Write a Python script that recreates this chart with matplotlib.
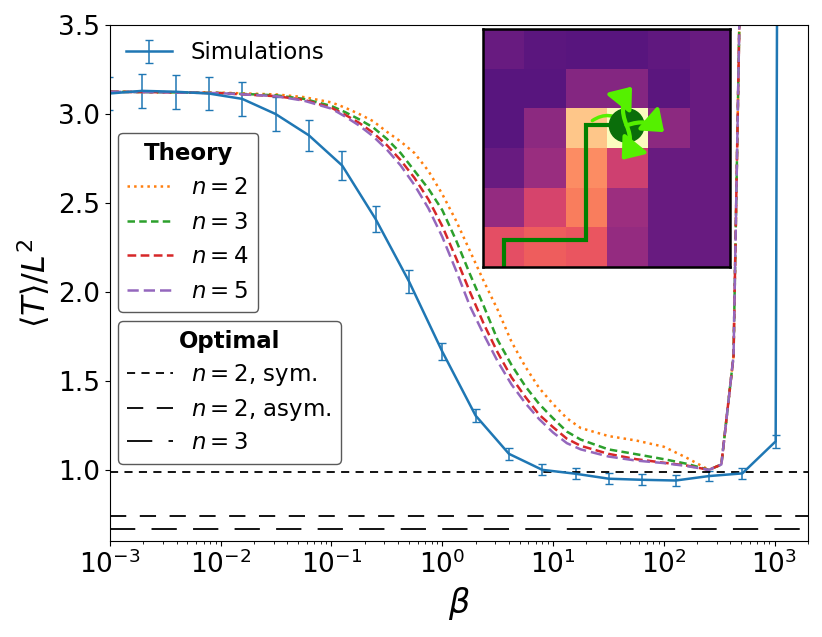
import numpy as np
import matplotlib
matplotlib.use('Agg')
import matplotlib.pyplot as plt
from matplotlib.lines import Line2D
from matplotlib.patches import Circle, FancyArrowPatch

# simulations, beta = 2**k
sim_log2_beta = [-10, -9, -8, -7, -6, -5, -4, -3, -2, -1, 0, 1, 2, 3, 4, 5, 6, 7, 8, 9, 10, 11]
sim_T = [3.115, 3.13, 3.125, 3.115, 3.085, 3.0, 2.88, 2.71, 2.41, 2.06, 1.665, 1.305,
         1.09, 1.0, 0.978, 0.95, 0.944, 0.94, 0.965, 0.98, 1.16, 60.0]
sim_err = [0.095, 0.095, 0.095, 0.095, 0.094, 0.094, 0.089, 0.08, 0.074, 0.065, 0.05, 0.038,
           0.035, 0.03, 0.03, 0.03, 0.03, 0.03, 0.03, 0.03, 0.037, 0.5]

# theory curves, on a log10(beta) grid
theory_logbeta = [-3.0, -2.5, -2.0, -1.5, -1.25, -1.0, -0.875, -0.75, -0.625, -0.5, -0.375,
                  -0.25, -0.125, 0.0, 0.125, 0.25, 0.375, 0.5, 0.625, 0.75, 0.875, 1.0,
                  1.125, 1.25, 1.5, 1.75, 2.0, 2.2, 2.408, 2.52, 2.63, 2.71]
theory_n2 = [3.125, 3.123, 3.12, 3.11, 3.095, 3.065, 3.035, 3.0, 2.96, 2.90, 2.845,
             2.78, 2.68, 2.55, 2.40, 2.23, 2.06, 1.90, 1.72, 1.58, 1.46, 1.37,
             1.29, 1.235, 1.19, 1.165, 1.13, 1.07, 1.0, 1.03, 1.64, 4.5]
theory_n3 = [3.125, 3.122, 3.118, 3.105, 3.085, 3.045, 3.01, 2.97, 2.925, 2.86, 2.78,
             2.68, 2.58, 2.46, 2.29, 2.10, 1.92, 1.73, 1.59, 1.47, 1.37, 1.29,
             1.215, 1.17, 1.115, 1.088, 1.06, 1.035, 1.0, 1.03, 1.64, 4.5]
theory_n4 = [3.125, 3.122, 3.117, 3.10, 3.08, 3.035, 2.995, 2.95, 2.895, 2.825, 2.74,
             2.64, 2.52, 2.37, 2.19, 2.0, 1.82, 1.66, 1.52, 1.41, 1.31, 1.24,
             1.175, 1.135, 1.09, 1.06, 1.04, 1.025, 1.0, 1.03, 1.64, 4.5]
theory_n5 = [3.125, 3.122, 3.117, 3.10, 3.075, 3.03, 2.985, 2.935, 2.875, 2.80, 2.71,
             2.60, 2.47, 2.31, 2.12, 1.92, 1.76, 1.61, 1.48, 1.375, 1.285, 1.21,
             1.15, 1.115, 1.075, 1.052, 1.038, 1.022, 1.0, 1.03, 1.64, 4.5]
theory_labels = ['$n=2$', '$n=3$', '$n=4$', '$n=5$']

# optimal values
opt_sym = 0.99
opt_asym = 0.742
opt_n3 = 0.67
opt_labels = ['$n=2$, sym.', '$n=2$, asym.', '$n=3$']

# inset grid (magma scale values)
inset_cells = [
    [0.31, 0.28, 0.27, 0.27, 0.29, 0.31],
    [0.27, 0.27, 0.38, 0.38, 0.28, 0.31],
    [0.27, 0.40, 0.88, 1.00, 0.40, 0.31],
    [0.31, 0.43, 0.76, 0.56, 0.31, 0.31],
    [0.42, 0.58, 0.73, 0.44, 0.31, 0.31],
    [0.62, 0.66, 0.64, 0.42, 0.31, 0.31],
]
path_x = [0.0, 0.0, 2.0, 2.0, 2.99]
path_y = [5.5, 4.81, 4.81, 1.91, 1.91]

fig = plt.figure(figsize=(8.22, 6.37), dpi=100)
ax = fig.add_axes([0.1338, 0.1507, 0.849, 0.810])

sim_beta = 2.0 ** np.array(sim_log2_beta)
sim_h = ax.errorbar(sim_beta, sim_T, yerr=sim_err, color='tab:blue', lw=1.8,
                    elinewidth=1.1, capsize=3, label='Simulations')

tb = 10.0 ** np.array(theory_logbeta)
styles = [(0, (1, 1.65)), (0, (3, 1.7)), (0, (3.5, 1.75)), (0, (4.5, 2))]
colors = ['tab:orange', 'tab:green', 'tab:red', 'tab:purple']
theory_handles = []
for vals, ls, c, lab in zip([theory_n2, theory_n3, theory_n4, theory_n5], styles, colors, theory_labels):
    h, = ax.plot(tb, vals, ls=ls, color=c, lw=1.8, label=lab)
    theory_handles.append(h)

opt_styles = [(0, (4.5, 3.5)), (0, (9, 7.5)), (0, (14, 9))]
opt_lws = [1.3, 1.3, 1.3]
opt_handles = []
for v, ls, lw, lab in zip([opt_sym, opt_asym, opt_n3], opt_styles, opt_lws, opt_labels):
    ax.axhline(v, color='k', ls=ls, lw=lw)
    opt_handles.append(Line2D([], [], color='k', ls=ls, lw=lw, label=lab))

ax.set_xscale('log')
ax.set_xlim(1e-3, 2e3)
ax.set_ylim(0.6, 3.5)
ax.set_yticks([1.0, 1.5, 2.0, 2.5, 3.0, 3.5])
ax.tick_params(labelsize=19)
ax.set_xlabel(r'$\beta$', fontsize=24)
ax.set_ylabel(r'$\langle T\rangle/L^2$', fontsize=23)

leg1 = ax.legend(handles=[sim_h], loc='upper left', frameon=False, fontsize=16.5,
                 borderaxespad=0.3)
ax.add_artist(leg1)
leg2 = ax.legend(handles=theory_handles, loc='upper left', bbox_to_anchor=(0.005, 0.80),
                 title='Theory', fontsize=16.5,
                 title_fontproperties={'weight': 'bold', 'size': 16.5},
                 edgecolor='0.35', framealpha=1, borderaxespad=0.2)
ax.add_artist(leg2)
leg3 = ax.legend(handles=opt_handles, loc='upper left', bbox_to_anchor=(0.005, 0.435),
                 title='Optimal', fontsize=16.5, labelspacing=0.38,
                 title_fontproperties={'weight': 'bold', 'size': 16.5},
                 edgecolor='0.35', framealpha=1, borderaxespad=0.2)

# inset
ins = fig.add_axes([0.5876, 0.5808, 0.3005, 0.3736])
ins.imshow(np.array(inset_cells), cmap='magma', vmin=0, vmax=1, aspect='auto')
ins.plot(path_x, path_y, color='green', lw=3, solid_joinstyle='miter')
ins.set_xlim(-0.5, 5.5)
ins.set_ylim(5.5, -0.5)
ins.set_xticks([])
ins.set_yticks([])
for s in ins.spines.values():
    s.set_linewidth(1.8)

cx, cy = 2.99, 1.93
arm_color = '#55f000'
ins.add_patch(FancyArrowPatch((cx, cy), (2.1, 1.85), connectionstyle='arc3,rad=0.45',
                              arrowstyle='-', color=arm_color, lw=2.5, zorder=3))
ins.add_patch(Circle((cx, cy), 0.42, color='#0a6e0a', zorder=4))
arms = [((3.12, 0.95), -0.3), ((3.9, 2.1), -0.3), ((2.87, 2.8), -0.3)]
for end, rad in arms:
    ins.add_patch(FancyArrowPatch((cx, cy), end, connectionstyle=f'arc3,rad={rad}',
                                  arrowstyle='-|>,head_length=0.55,head_width=0.42',
                                  mutation_scale=22, color=arm_color, lw=3, zorder=5,
                                  shrinkA=0, shrinkB=0))

fig.savefig('out.png', dpi=100)
